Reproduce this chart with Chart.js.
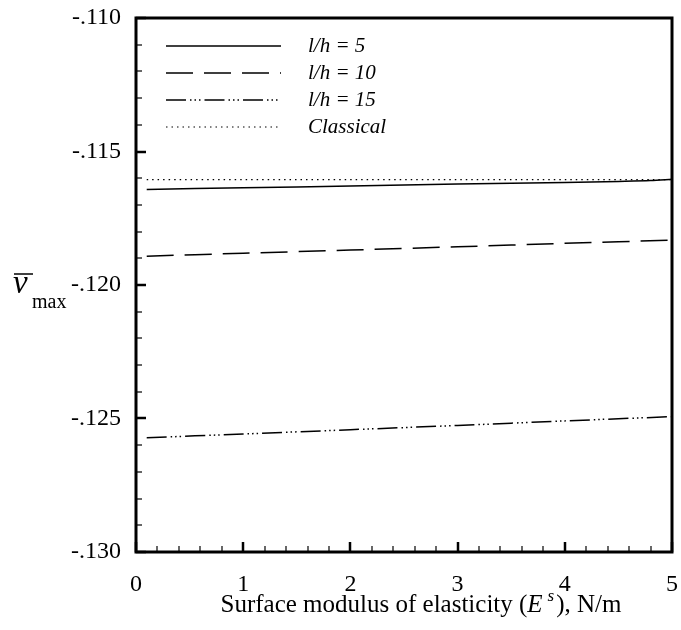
<!DOCTYPE html>
<html>
<head>
<meta charset="utf-8">
<script src="https://cdn.jsdelivr.net/npm/chart.js@4/dist/chart.umd.min.js"></script>
<style>
  html, body { margin: 0; padding: 0; background: #fff; }
  #wrap { width: 681px; height: 630px; }
</style>
</head>
<body>
<div id="wrap"><canvas id="mycanvas" width="681" height="630"></canvas></div>
<script>
// values
var xs5 = [0.1, 1, 2, 3, 4, 4.5, 4.8, 5];
var lh5 = [-0.11642, -0.11636, -0.11629, -0.11622, -0.11616, -0.11612, -0.11609, -0.11604];
var xs10 = [0.1, 1, 2, 3, 4, 5];
var lh10 = [-0.11892, -0.11881, -0.11869, -0.11857, -0.11844, -0.11832];
var xs15 = [0.1, 1, 2, 3, 4, 5];
var lh15 = [-0.12572, -0.12558, -0.12542, -0.12526, -0.12509, -0.12493];
var xsClassical = [0.1, 5];
var classical = [-0.11605, -0.11605];
var seriesNames = ['l/h = 5', 'l/h = 10', 'l/h = 15', 'Classical'];
var xTicks = [0, 1, 2, 3, 4, 5];
var yTicks = [-0.130, -0.125, -0.120, -0.115, -0.110];

function pts(xs, ys) {
  var out = [];
  for (var i in xs) out.push({x: xs[i], y: ys[i]});
  return out;
}

var dashes = [[], [27, 11], [20, 4, 1.5, 3, 1.5, 3, 1.5, 4], [1.5, 4]];
var widths = [1.5, 1.5, 1.5, 1.2];

var serif = "'Liberation Serif', 'Times New Roman', serif";

var frameAndTicks = {
  id: 'frameAndTicks',
  afterDraw: function(chart) {
    var c = chart.ctx, a = chart.chartArea;
    var xs = chart.scales.x, ys = chart.scales.y;
    c.save();
    c.strokeStyle = '#000';
    // inward ticks
    for (var v = 0; v <= 25; v++) {
      var px = Math.round(xs.getPixelForValue(v * 0.2));
      var major = (v % 5 === 0);
      c.lineWidth = major ? 2.5 : 1.2;
      c.beginPath();
      c.moveTo(px, a.bottom);
      c.lineTo(px, a.bottom - (major ? 10 : 6));
      c.stroke();
    }
    for (var k = 0; k <= 20; k++) {
      var val = -0.130 + k * 0.001;
      var py = Math.round(ys.getPixelForValue(val));
      var maj = (k % 5 === 0);
      c.lineWidth = maj ? 2.5 : 1.2;
      c.beginPath();
      c.moveTo(a.left, py);
      c.lineTo(a.left + (maj ? 10 : 6), py);
      c.stroke();
    }
    // frame
    c.lineWidth = 3;
    c.strokeRect(a.left, a.top, a.right - a.left, a.bottom - a.top);

    // legend
    var lx0 = 166, lx1 = 281, ly = 46, step = 27;
    for (var i = 0; i < seriesNames.length; i++) {
      var y = ly + i * step;
      c.lineWidth = widths[i];
      c.setLineDash(dashes[i]);
      c.beginPath();
      c.moveTo(lx0, y);
      c.lineTo(lx1, y);
      c.stroke();
      c.setLineDash([]);
      c.fillStyle = '#000';
      c.font = 'italic 21px ' + serif;
      c.textBaseline = 'middle';
      c.textAlign = 'left';
      c.fillText(seriesNames[i], 308, y);
    }

    // y title: v-bar with subscript max
    c.fillStyle = '#000';
    c.textBaseline = 'alphabetic';
    c.font = 'italic 33px ' + serif;
    c.fillText('v', 13, 293);
    c.lineWidth = 1.5;
    c.beginPath();
    c.moveTo(14, 274);
    c.lineTo(33, 274);
    c.stroke();
    c.font = '20px ' + serif;
    c.fillText('max', 32, 308);

    // x title with superscript
    var p1 = 'Surface modulus of elasticity (', p2 = 'E', p3 = 's', p4 = '), N/m';
    c.font = '25px ' + serif; var w1 = c.measureText(p1).width;
    c.font = 'italic 25px ' + serif; var w2 = c.measureText(p2).width;
    c.font = 'italic 17px ' + serif; var w3 = c.measureText(p3).width;
    c.font = '25px ' + serif; var w4 = c.measureText(p4).width;
    var total = w1 + w2 + 5 + w3 + 2 + w4;
    var x = 421 - total / 2, by = 612;
    c.font = '25px ' + serif; c.fillText(p1, x, by); x += w1;
    c.font = 'italic 25px ' + serif; c.fillText(p2, x, by); x += w2 + 5;
    c.font = 'italic 17px ' + serif; c.fillText(p3, x, by - 11); x += w3 + 2;
    c.font = '25px ' + serif; c.fillText(p4, x, by);
    c.restore();
  }
};

var datasets = [];
var allX = [xs5, xs10, xs15, xsClassical];
var allY = [lh5, lh10, lh15, classical];
for (var i = 0; i < seriesNames.length; i++) {
  datasets.push({
    label: seriesNames[i],
    data: pts(allX[i], allY[i]),
    borderColor: '#000',
    borderWidth: widths[i],
    borderDash: dashes[i],
    pointRadius: 0,
    tension: 0.3,
    fill: false
  });
}

var ctx = document.getElementById('mycanvas');
var chart = new Chart(ctx, {
  type: 'line',
  data: { datasets: datasets },
  options: {
    responsive: false,
    animation: false,
    devicePixelRatio: 1,
    layout: { padding: { left: 0, right: 9, top: 18, bottom: 0 } },
    plugins: { legend: { display: false }, tooltip: { enabled: false } },
    scales: {
      x: {
        type: 'linear', min: 0, max: 5,
        grid: { display: false, drawTicks: false },
        border: { display: false },
        afterFit: function(s) { s.height = 78; s.paddingLeft = 0; s.paddingRight = 0; },
        afterBuildTicks: function(s) { s.ticks = xTicks.map(function(v) { return {value: v}; }); },
        ticks: { color: '#000', padding: 18, font: { family: serif, size: 24 }, maxRotation: 0 }
      },
      y: {
        type: 'linear', min: -0.130, max: -0.110,
        grid: { display: false, drawTicks: false },
        border: { display: false },
        afterFit: function(s) { s.width = 136; s.paddingTop = 0; s.paddingBottom = 0; },
        afterBuildTicks: function(s) { s.ticks = yTicks.map(function(v) { return {value: v}; }); },
        ticks: {
          color: '#000', padding: 15, font: { family: serif, size: 24 },
          callback: function(v) { return '-' + Math.abs(v).toFixed(3).replace(/^0/, ''); }
        }
      }
    }
  },
  plugins: [frameAndTicks]
});
</script>
</body>
</html>
